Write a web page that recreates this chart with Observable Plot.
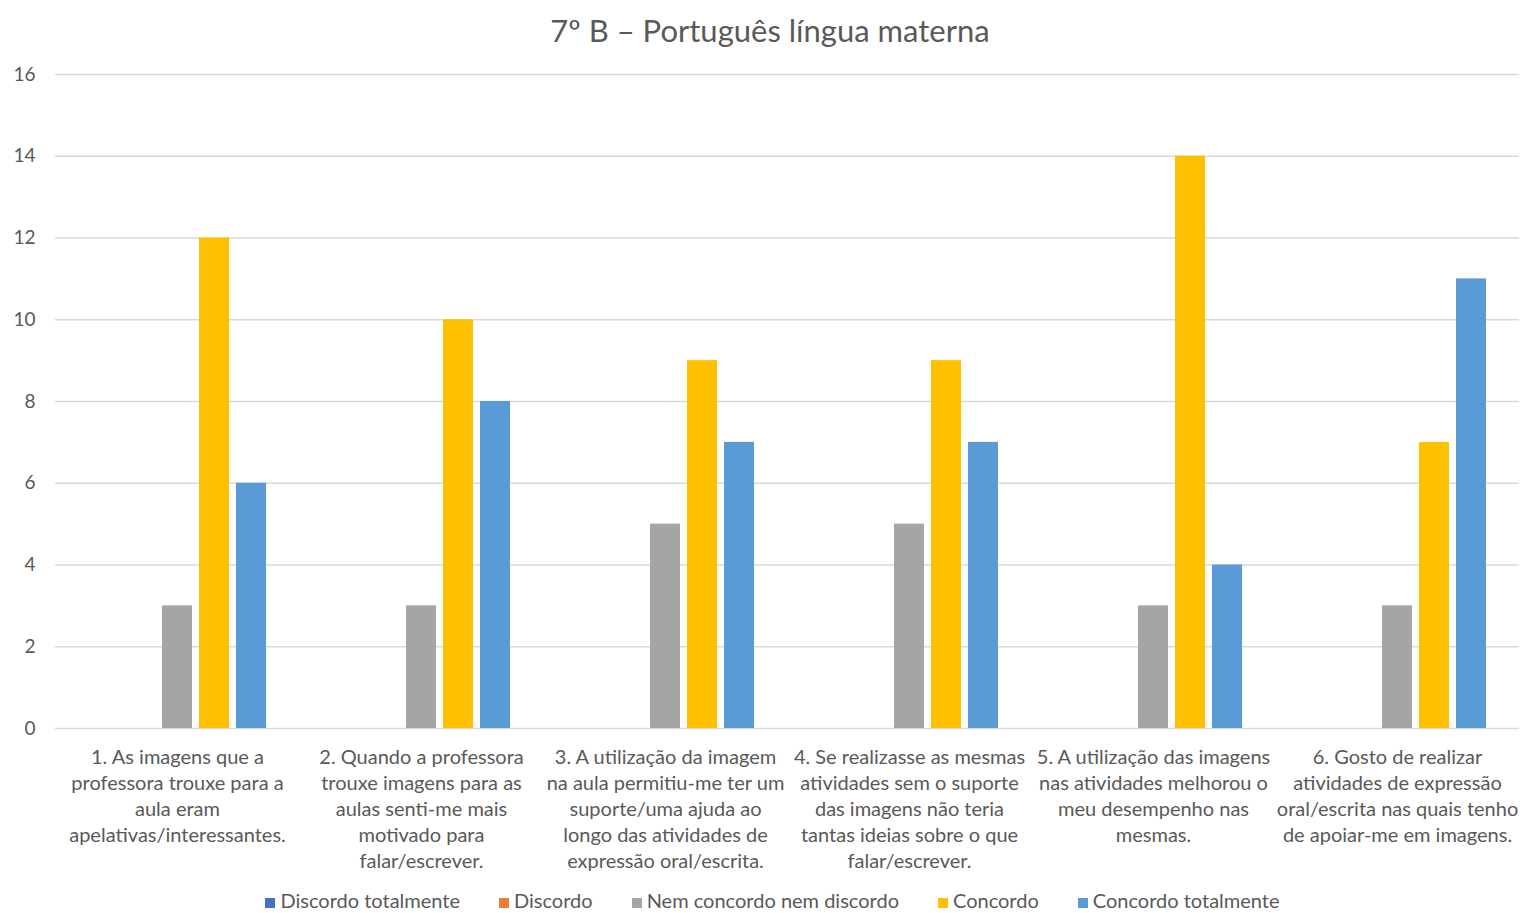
<!DOCTYPE html>
<html><head><meta charset="utf-8">
<script src="https://cdn.jsdelivr.net/npm/d3@7"></script>
<script src="https://cdn.jsdelivr.net/npm/@observablehq/plot@0.6"></script>
<style>
body{margin:0;background:#fff;font-family:Lato,"Open Sans",sans-serif;color:#595959;}
#title{height:55px;line-height:61px;text-align:center;font-size:31px;padding-left:17px;}
#legend{display:flex;justify-content:center;gap:39px;font-size:20px;height:33px;line-height:40px;margin-left:22px;}
#legend span.sw{display:inline-block;width:10px;height:10px;margin-right:5px;}
</style></head>
<body>
<div id="title">7º B – Português língua materna</div>
<div id="chart"></div>
<div id="legend"></div>
<script>
const categories = [
  "1. As imagens que a\nprofessora trouxe para a\naula eram\napelativas/interessantes.",
  "2. Quando a professora\ntrouxe imagens para as\naulas senti-me mais\nmotivado para\nfalar/escrever.",
  "3. A utilização da imagem\nna aula permitiu-me ter um\nsuporte/uma ajuda ao\nlongo das atividades de\nexpressão oral/escrita.",
  "4. Se realizasse as mesmas\natividades sem o suporte\ndas imagens não teria\ntantas ideias sobre o que\nfalar/escrever.",
  "5. A utilização das imagens\nnas atividades melhorou o\nmeu desempenho nas\nmesmas.",
  "6. Gosto de realizar\natividades de expressão\noral/escrita nas quais tenho\nde apoiar-me em imagens."
];
const seriesNames = ["Discordo totalmente","Discordo","Nem concordo nem discordo","Concordo","Concordo totalmente"];
const seriesColors = ["#4472C4","#ED7D31","#A5A5A5","#FFC000","#5B9BD5"];
const discordoTotalmente = [0,0,0,0,0,0];
const discordo = [0,0,0,0,0,0];
const nemNem = [3,3,5,5,3,3];
const concordo = [12,10,9,9,14,7];
const concordoTotalmente = [6,8,7,7,4,11];
const yTicks = [0,2,4,6,8,10,12,14,16];

const seriesValues = [discordoTotalmente, discordo, nemNem, concordo, concordoTotalmente];
const data = [];
categories.forEach((c,i)=>seriesNames.forEach((s,j)=>data.push({cat:c, series:s, value:seriesValues[j][i]})));

const chart = Plot.plot({
  width:1523, height:825,
  marginLeft:55, marginRight:4, marginTop:19, marginBottom:152,
  style:{fontFamily:"Lato, 'Open Sans', sans-serif", color:"#595959", background:"#fff"},
  fx:{domain:categories, padding:0, label:null},
  x:{domain:seriesNames, paddingInner:0.2, paddingOuter:0.853, axis:null},
  y:{domain:[0,16], ticks:yTicks, label:null},
  color:{domain:seriesNames, range:seriesColors},
  marks:[
    Plot.gridY(yTicks,{stroke:"#d9d9d9", strokeOpacity:1, strokeWidth:1.3}),
    Plot.axisY({ticks:yTicks, tickSize:0, tickPadding:20, fontSize:19, fill:"#595959", label:null}),
    Plot.axisFx({anchor:"bottom", tickSize:0, tickPadding:17, fontSize:20, lineHeight:1.3, fill:"#595959", label:null}),
    Plot.barY(data,{fx:"cat", x:"series", y:"value", fill:"series"})
  ]
});
document.getElementById("chart").appendChild(chart);

const lg = document.getElementById("legend");
seriesNames.forEach((s,i)=>{
  const d=document.createElement("div");
  d.innerHTML=`<span class="sw" style="background:${seriesColors[i]}"></span>${s}`;
  lg.appendChild(d);
});
</script>
</body></html>
